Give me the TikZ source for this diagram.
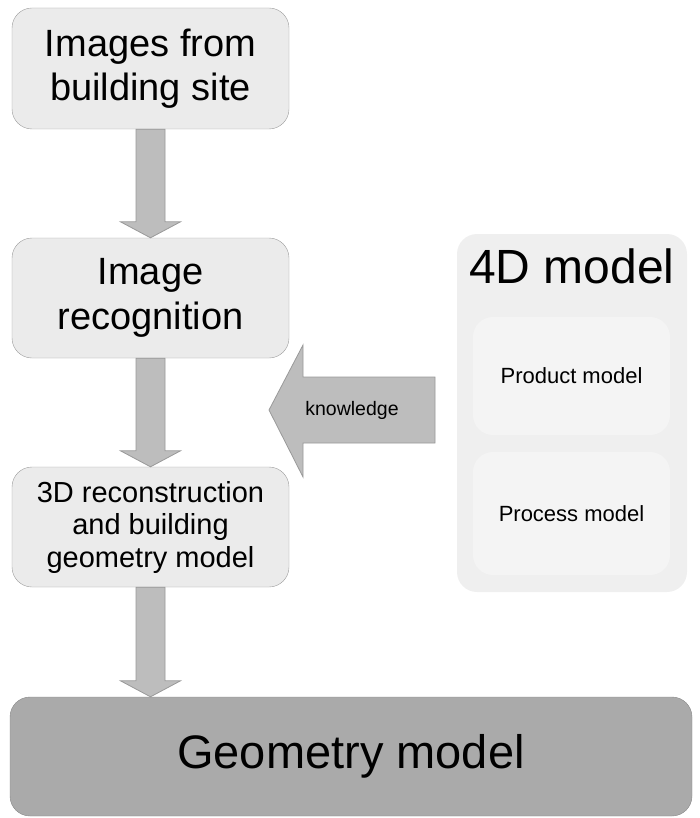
\documentclass[tikz,border=0pt]{standalone}
\usepackage{fontspec}
\setmainfont{Liberation Sans}
\usetikzlibrary{positioning}
\usetikzlibrary{calc}

\definecolor{boxfill}{HTML}{EBEBEB}
\definecolor{boxline}{HTML}{9E9E9E}
\definecolor{arrfill}{HTML}{BDBDBD}
\definecolor{arrline}{HTML}{999999}
\definecolor{geofill}{HTML}{AAAAAA}
\definecolor{geoline}{HTML}{888888}
\definecolor{panelfill}{HTML}{EFEFEF}
\definecolor{innerfill}{HTML}{F4F4F4}

\tikzset{
	stepbox/.style = {draw = boxline, fill = boxfill, rounded corners = 20pt, align = center,
		minimum width = 277pt, inner sep = 0pt},
	blockarr/.style = {draw = arrline, fill = arrfill, line width = 0.8pt},
}

% block arrow from the bottom of #1 straight down to the top of #2
\newcommand{\blockarrow}[2]{
	\coordinate (from) at (#1.south);
	\coordinate (to) at (#1.south |- #2.north);
	\draw [blockarr] ($(from) + (-14.5, 0)$) -- ($(to) + (-14.5, -16)$)
		-- ($(to) + (-30, -16)$) -- (to) -- ($(to) + (30, -16)$)
		-- ($(to) + (14.5, -16)$) -- ($(from) + (14.5, 0)$) -- cycle;
}

\begin{document}
\begin{tikzpicture}[x = 1pt, y = -1pt]
		\useasboundingbox (0, 0) rectangle (700, 818);

		\node (images) [stepbox, minimum height = 121pt, font = \fontsize{38}{44}\selectfont] at (150.5, 68.5) {Images from\\building site};
		\node (recog) [stepbox, minimum height = 120pt, font = \fontsize{38}{45}\selectfont] at (150.5, 298) {Image\\recognition};
		\node (recon) [stepbox, minimum height = 120pt, font = \fontsize{29}{32.5}\selectfont] at (150.5, 527) {3D reconstruction\\and building\\geometry model};
		\node (geom) [draw = geoline, fill = geofill, rounded corners = 20pt, minimum width = 682pt, minimum height = 119pt, font = \fontsize{47}{50}\selectfont] at (351, 756.5) {Geometry model};

		\node (model4d) [fill = panelfill, rounded corners = 20pt, minimum width = 230pt, minimum height = 358pt] at (572, 413) {};
		\node (title4d) [anchor = base, font = \fontsize{48}{50}\selectfont] at (572, 283) {4D model};
		\node (product) [fill = innerfill, rounded corners = 20pt, minimum width = 197pt, minimum height = 118pt, font = \fontsize{22}{24}\selectfont] at (571.5, 376) {Product model};
		\node (process) [fill = innerfill, rounded corners = 20pt, minimum width = 197pt, minimum height = 123pt, font = \fontsize{22}{24}\selectfont] at (571.5, 513.5) {Process model};

		\blockarrow{images}{recog}
		\blockarrow{recog}{recon}
		\blockarrow{recon}{geom}

		% knowledge arrow
		\coordinate (tip) at (269, 410);
		\coordinate (tail) at (435, 410);
		\draw [blockarr] ($(tail) + (0, -33)$) -- ($(tip) + (34, -33)$) -- ($(tip) + (34, -65)$) -- (tip)
			-- ($(tip) + (34, 67)$) -- ($(tip) + (34, 33)$) -- ($(tail) + (0, 33)$) -- cycle;
		\node (know) [font = \fontsize{19.5}{22}\selectfont] at (352, 410) {knowledge};
	\end{tikzpicture}
\end{document}
